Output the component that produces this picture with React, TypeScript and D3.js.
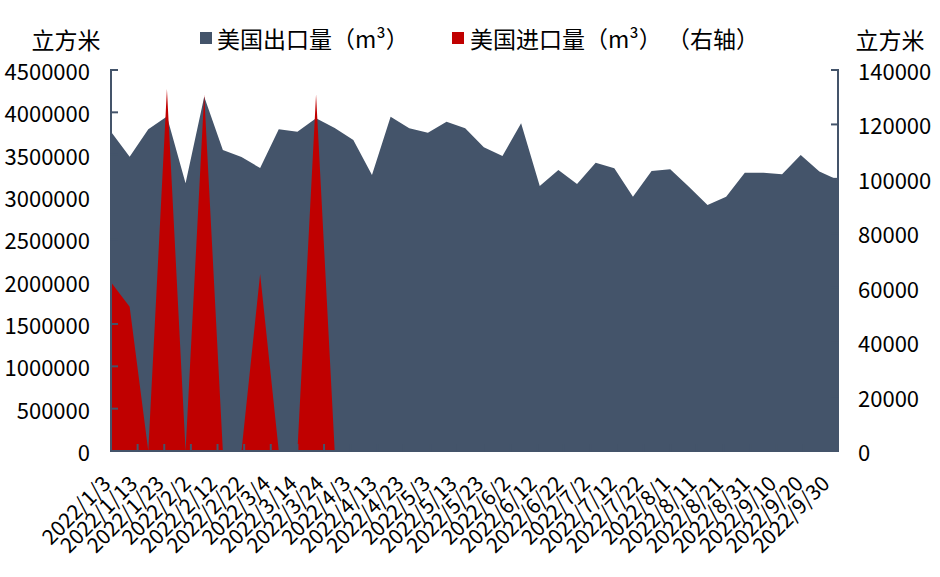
import React from 'react';
import * as d3 from 'd3';

// Weekly observation dates
const weekDates = [
  '2022-01-03', '2022-01-10', '2022-01-17', '2022-01-24', '2022-01-31',
  '2022-02-07', '2022-02-14', '2022-02-21', '2022-02-28', '2022-03-07',
  '2022-03-14', '2022-03-21', '2022-03-28', '2022-04-04', '2022-04-11',
  '2022-04-18', '2022-04-25', '2022-05-02', '2022-05-09', '2022-05-16',
  '2022-05-23', '2022-05-30', '2022-06-06', '2022-06-13', '2022-06-20',
  '2022-06-27', '2022-07-04', '2022-07-11', '2022-07-18', '2022-07-25',
  '2022-08-01', '2022-08-08', '2022-08-15', '2022-08-22', '2022-08-29',
  '2022-09-05', '2022-09-12', '2022-09-19', '2022-09-26', '2022-10-03',
];

// 美国出口量 (left axis, m³)
const exportVolume = [
  3770000, 3476000, 3800000, 3950000, 3162000, 4184000, 3555000, 3472000, 3342000, 3800000,
  3770000, 3930000, 3815000, 3673000, 3260000, 3948000, 3811000, 3759000, 3889000, 3811000,
  3587000, 3484000, 3870000, 3130000, 3319000, 3153000, 3405000, 3339000, 3003000, 3307000,
  3327000, 3120000, 2905000, 3003000, 3287000, 3287000, 3270000, 3496000, 3300000, 3200000,
];

// 美国进口量 (right axis, m³) — only the first weeks have data
const importVolume = [62000, 53000, 0, 133000, 0, 131000, 0, 0, 65000, 0, 0, 131000, 0];

const leftTicks = [0, 500000, 1000000, 1500000, 2000000, 2500000, 3000000, 3500000, 4000000, 4500000];
const rightTicks = [0, 20000, 40000, 60000, 80000, 100000, 120000, 140000];
const xTickLabels = [
  '2022/1/3', '2022/1/13', '2022/1/23', '2022/2/2', '2022/2/12', '2022/2/22', '2022/3/4',
  '2022/3/14', '2022/3/24', '2022/4/3', '2022/4/13', '2022/4/23', '2022/5/3', '2022/5/13',
  '2022/5/23', '2022/6/2', '2022/6/12', '2022/6/22', '2022/7/2', '2022/7/12', '2022/7/22',
  '2022/8/1', '2022/8/11', '2022/8/21', '2022/8/31', '2022/9/10', '2022/9/20', '2022/9/30',
];
const seriesNames = ['美国出口量（m³）', '美国进口量（m³） （右轴）'];
const axisTitle = '立方米';

const GRAY = '#44546A';
const RED = '#C00000';
const FONT = '"Noto Sans CJK SC", "Noto Sans", sans-serif';

export default function App() {
  const W = 940;
  const H = 577;
  const left = 111;
  const right = 838;
  const top = 70;
  const bottom = 451;

  const parse = d3.timeParse('%Y-%m-%d');
  const parseLabel = d3.timeParse('%Y/%m/%d');
  const dates = weekDates.map((s) => parse(s) as Date);

  const x = d3.scaleTime().domain([dates[0], dates[dates.length - 1]]).range([left, right]);
  const yL = d3.scaleLinear().domain([0, 4500000]).range([bottom, top]);
  const yR = d3.scaleLinear().domain([0, 140000]).range([bottom, top]);

  const exportArea = d3
    .area<number>()
    .x((_, i) => x(dates[i]))
    .y0(bottom)
    .y1((d) => yL(d))(exportVolume) as string;

  const importArea = d3
    .area<number>()
    .x((_, i) => x(dates[i]))
    .y0(bottom)
    .y1((d) => yR(d))(importVolume) as string;

  const tickLen = 6;

  return (
    <svg
      width={W}
      height={H}
      style={{ position: 'absolute', left: 0, top: 0, background: '#fff' }}
      fontFamily={FONT}
    >
      <rect x={0} y={0} width={W} height={H} fill="#fff" />

      {/* areas */}
      <path d={exportArea} fill={GRAY} />
      <path d={importArea} fill={RED} />

      {/* axes */}
      <g stroke={GRAY} strokeWidth={2} fill="none" strokeLinecap="square">
        <line x1={left} y1={top} x2={left} y2={bottom} />
        <line x1={right} y1={top} x2={right} y2={bottom} />
        <line x1={left} y1={bottom} x2={right} y2={bottom} />
        {leftTicks.map((t) => (
          <line key={'lt' + t} x1={left} x2={left + tickLen} y1={yL(t)} y2={yL(t)} />
        ))}
        {rightTicks.map((t) => (
          <line key={'rt' + t} x1={right} x2={right - tickLen} y1={yR(t)} y2={yR(t)} />
        ))}
        {xTickLabels.map((l) => {
          const px = x(parseLabel(l) as Date);
          return <line key={'xt' + l} x1={px} x2={px} y1={bottom} y2={bottom - tickLen} />;
        })}
      </g>

      {/* left tick labels */}
      {leftTicks.map((t) => (
        <text
          key={'ll' + t}
          x={90}
          y={yL(t)}
          textAnchor="end"
          dominantBaseline="central"
          fontSize={22}
          fill="#000"
        >
          {t}
        </text>
      ))}

      {/* right tick labels */}
      {rightTicks.map((t) => (
        <text
          key={'rl' + t}
          x={858}
          y={yR(t)}
          textAnchor="start"
          dominantBaseline="central"
          fontSize={22}
          fill="#000"
        >
          {t}
        </text>
      ))}

      {/* x tick labels */}
      {xTickLabels.map((l) => {
        const px = x(parseLabel(l) as Date);
        return (
          <text
            key={'xl' + l}
            transform={`translate(${px + 1},${485}) rotate(-45)`}
            textAnchor="end"
            fontSize={21}
            fill="#000"
          >
            {l}
          </text>
        );
      })}

      {/* axis titles */}
      <text x={66} y={39} textAnchor="middle" dominantBaseline="central" fontSize={23} fill="#000">
        {axisTitle}
      </text>
      <text x={890} y={39} textAnchor="middle" dominantBaseline="central" fontSize={23} fill="#000">
        {axisTitle}
      </text>

      {/* legend */}
      <rect x={200} y={32} width={12} height={12} fill={GRAY} />
      <text x={217} y={38} dominantBaseline="central" fontSize={23} fill="#000">
        {seriesNames[0]}
      </text>
      <rect x={452} y={32} width={12} height={12} fill={RED} />
      <text x={470} y={38} dominantBaseline="central" fontSize={23} fill="#000">
        {seriesNames[1]}
      </text>
    </svg>
  );
}
